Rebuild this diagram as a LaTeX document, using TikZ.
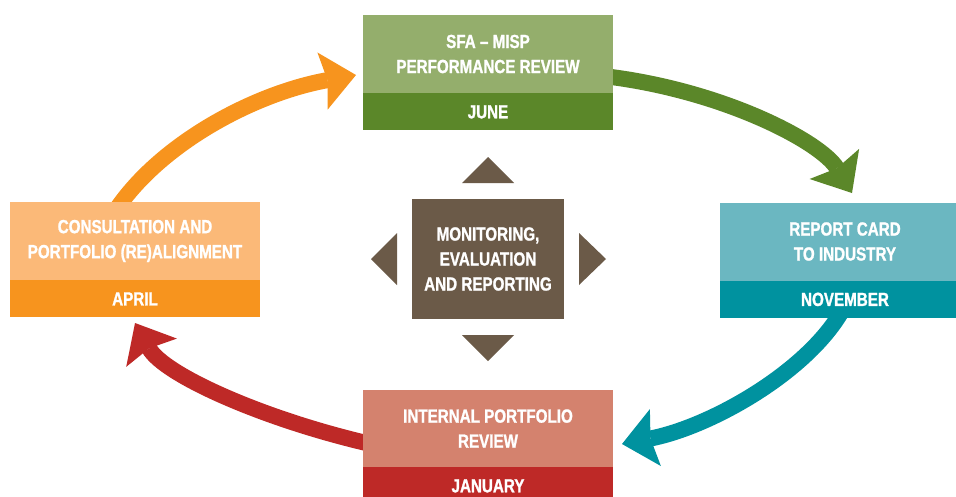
\documentclass[tikz,border=0pt]{standalone}
\usepackage{fontspec}
\setmainfont{Liberation Sans}[FakeStretch=0.8, BoldFeatures={FakeBold=1.2}]
\usetikzlibrary{arrows.meta,backgrounds,positioning}

\definecolor{sfaLight}{RGB}{148,174,108}
\definecolor{sfaDark}{RGB}{91,135,41}
\definecolor{consLight}{RGB}{251,185,120}
\definecolor{consDark}{RGB}{247,148,30}
\definecolor{cardLight}{RGB}{107,183,193}
\definecolor{cardDark}{RGB}{0,146,159}
\definecolor{intlLight}{RGB}{212,130,110}
\definecolor{intlDark}{RGB}{190,41,39}
\definecolor{merBrown}{RGB}{107,90,72}

\tikzset{
	stagebox/.style={rectangle, minimum width=250pt, minimum height=78pt, inner sep=0pt, text=white, font=\bfseries\fontsize{19}{25}\selectfont, align=center},
	monthbox/.style={stagebox, minimum height=37pt},
	cyclearrow/.style={line width=16pt, -{Stealth[length=34pt, width=58pt, inset=5pt, line width=0pt]}}
}

\begin{document}
\begin{tikzpicture}[x=1pt, y=-1pt]
			%%%%% START %%%%%
			\useasboundingbox (0, 0) rectangle (956, 496);
			
			% stages round the cycle
			\node[stagebox, fill=sfaLight] (sfa) at (488, 54) {SFA – MISP\\PERFORMANCE REVIEW};
			\node[monthbox, fill=sfaDark, below=0pt of sfa] (sfamonth) {JUNE};
			
			\node[stagebox, fill=cardLight] (card) at (845, 241.5) {REPORT CARD\\TO INDUSTRY};
			\node[monthbox, fill=cardDark, below=0pt of card] (cardmonth) {NOVEMBER};
			
			\node[stagebox, fill=intlLight, minimum height=77pt] (intl) at (488, 428.5) {INTERNAL PORTFOLIO\\REVIEW};
			\node[monthbox, fill=intlDark, below=0pt of intl] (intlmonth) {JANUARY};
			
			\node[stagebox, fill=consLight] (cons) at (135, 241) {CONSULTATION AND\\PORTFOLIO (RE)ALIGNMENT};
			\node[monthbox, fill=consDark, below=0pt of cons] (consmonth) {APRIL};
			
			% centre
			\node[stagebox, fill=merBrown, minimum width=152pt, minimum height=120pt] (mer) at (488, 259) {MONITORING,\\EVALUATION\\AND REPORTING};
			\fill[merBrown] (488, 157) -- (514, 183) -- (462, 183) -- cycle;
			\fill[merBrown] (488, 361) -- (514, 335) -- (462, 335) -- cycle;
			\fill[merBrown] (371, 259) -- (397, 233) -- (397, 285) -- cycle;
			\fill[merBrown] (606, 259) -- (579, 233) -- (579, 285) -- cycle;
			
			% arrow tips
			\coordinate (tipsfa) at (356, 75);
			\coordinate (tipcard) at (852, 193);
			\coordinate (tipintl) at (622, 444);
			\coordinate (tipcons) at (135, 323);
			
			\begin{pgfonlayer}{background}
				\fill[white] (0, 0) rectangle (956, 496);
				\draw[cyclearrow, consDark] ([shift={(-19,8)}]cons.north) .. controls (162, 142) and (256, 93) .. (tipsfa);
				\draw[cyclearrow, sfaDark] ([shift={(-10,22)}]sfa.east) .. controls (723, 90) and (821, 142) .. (tipcard);
				\draw[cyclearrow, cardDark] ([shift={(-2,-9)}]cardmonth.south) .. controls (808, 372) and (710, 427) .. (tipintl);
				\draw[cyclearrow, intlDark] ([shift={(10,16)}]intl.west) .. controls (265, 420) and (164, 375) .. (tipcons);
			\end{pgfonlayer}
			
			%%%%% END %%%%%
\end{tikzpicture}
\end{document}
